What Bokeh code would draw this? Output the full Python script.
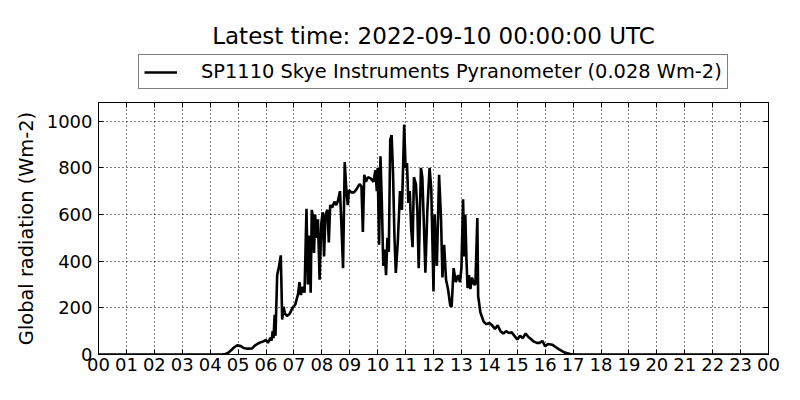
from bokeh.plotting import figure
from bokeh.layouts import column
from bokeh.models import (FixedTicker, LinearAxis, Legend, LegendItem, Label,
                          Range1d, ColumnDataSource, Grid)
from bokeh.embed import file_html
from bokeh.resources import INLINE

# ---- data (hours UTC, global radiation Wm-2) ----
hours = [0.0, 4.4, 4.55, 4.65, 4.75, 4.85, 4.97, 5.1, 5.2, 5.35, 5.5, 5.6, 5.7, 5.8, 5.9,
         6.0, 6.07, 6.12, 6.16, 6.2, 6.24, 6.27, 6.31, 6.34, 6.4, 6.47, 6.53, 6.58, 6.63,
         6.68, 6.75, 6.85, 6.95, 7.05, 7.15, 7.2, 7.25, 7.32, 7.38, 7.45, 7.5, 7.55, 7.6,
         7.64, 7.68, 7.72, 7.76, 7.8, 7.86, 7.92, 7.98, 8.03, 8.08, 8.13, 8.2, 8.25, 8.3,
         8.37, 8.45, 8.52, 8.58, 8.65, 8.7, 8.76, 8.82, 8.88, 8.93, 8.97, 9.05, 9.15, 9.25,
         9.35, 9.42, 9.47, 9.52, 9.58, 9.65, 9.75, 9.85, 9.92, 9.97, 10.0, 10.05, 10.1,
         10.15, 10.2, 10.25, 10.3, 10.35, 10.4, 10.45, 10.5, 10.55, 10.6, 10.65, 10.72,
         10.8, 10.87, 10.95, 11.0, 11.05, 11.1, 11.15, 11.2, 11.25, 11.3, 11.37, 11.42,
         11.47, 11.55, 11.6, 11.66, 11.71, 11.78, 11.86, 11.92, 12.0, 12.04, 12.08, 12.12,
         12.2, 12.27, 12.32, 12.38, 12.45, 12.52, 12.6, 12.65, 12.72, 12.8, 12.88, 12.95,
         13.0, 13.06, 13.1, 13.14, 13.18, 13.22, 13.27, 13.32, 13.38, 13.45, 13.5, 13.57,
         13.6, 13.68, 13.8, 13.9, 14.0, 14.1, 14.2, 14.3, 14.4, 14.5, 14.6, 14.7, 14.8,
         14.9, 15.0, 15.1, 15.2, 15.3, 15.4, 15.5, 15.6, 15.7, 15.8, 15.9, 16.0, 16.1,
         16.25, 16.4, 16.5, 16.7, 16.9, 17.1, 24.0]
radiation = [0, 0, 2, 8, 18, 30, 39, 36, 28, 25, 26, 38, 46, 52, 56,
             62, 50, 62, 72, 60, 100, 70, 170, 80, 340, 380, 425, 150, 205,
             175, 165, 175, 200, 215, 260, 310, 255, 290, 265, 625, 300, 510, 265,
             620, 590, 435, 600, 500, 580, 320, 560, 610, 420, 600, 620, 480, 640,
             630, 655, 640, 660, 700, 560, 370, 825, 700, 640, 705, 695, 695, 710,
             730, 720, 525, 770, 740, 760, 755, 740, 790, 700, 800, 470, 850,
             650, 380, 450, 340, 500, 440, 920, 940, 780, 510, 350, 480,
             700, 620, 985, 800, 820, 650, 700, 540, 460, 760, 730, 620,
             370, 800, 760, 540, 350, 620, 800, 710, 270, 600, 460, 380,
             770, 580, 330, 470, 320, 280, 210, 205, 370, 310, 340, 310,
             370, 665, 420, 600, 410, 285, 340, 280, 330, 300, 300, 585,
             250, 180, 140, 130, 135, 125, 110, 125, 100, 90, 100, 92, 95,
             80, 65, 80, 70, 90, 75, 65, 55, 50, 50, 58, 35, 45,
             42, 30, 22, 8, 2, 0, 0]

hour_ticks = list(range(25))
hour_labels = ["%02d" % (h % 24) for h in hour_ticks]
y_ticks = [0, 200, 400, 600, 800, 1000]

title_text = "Latest time: 2022-09-10 00:00:00 UTC"
series_name = "SP1110 Skye Instruments Pyranometer (0.028 Wm-2)"
y_label = "Global radiation (Wm-2)"

FONT = "DejaVu Sans"
HEADER_H = 94
FRAME_L = 98
FRAME_R = 768

src = ColumnDataSource(dict(h=hours, v=radiation))

# ---------------- header: title + legend ----------------
head = figure(width=800, height=HEADER_H, output_backend="svg", toolbar_location=None,
              x_range=Range1d(0, 24), y_range=Range1d(5000, 6000),
              min_border_left=FRAME_L, min_border_right=800 - FRAME_R, min_border_top=0,
              min_border_bottom=0, x_axis_type=None, y_axis_type=None)
head.outline_line_color = None
head.background_fill_color = "white"
head.border_fill_color = "white"
head.xgrid.visible = False
head.ygrid.visible = False
hr = head.line("h", "v", source=src, line_color="black", line_width=2.6)

leg = Legend(items=[LegendItem(label=series_name, renderers=[hr])],
             location=(138 - FRAME_L, HEADER_H - 89))
leg.label_text_font = FONT
leg.label_text_font_size = "19.4px"
leg.label_text_color = "black"
leg.glyph_width = 33
leg.label_standoff = 24
leg.padding = 5
leg.margin = 0
leg.spacing = 0
leg.border_line_color = "black"
leg.border_line_width = 1
leg.background_fill_alpha = 1
head.add_layout(leg, "center")

head.add_layout(Label(x=(FRAME_L + FRAME_R) / 2 - FRAME_L, y=HEADER_H - 35,
                      x_units="screen", y_units="screen",
                      text=title_text, text_font=FONT, text_font_size="23px",
                      text_align="center", text_baseline="middle",
                      text_color="black"))

# ---------------- main plot ----------------
p = figure(width=800, height=400 - HEADER_H, output_backend="svg", toolbar_location=None,
           x_range=Range1d(0, 24), y_range=Range1d(0, 1080),
           min_border_left=FRAME_L, min_border_right=800 - FRAME_R,
           min_border_top=102 - HEADER_H,
           min_border_bottom=46, x_axis_type=None, y_axis_type=None)
p.background_fill_color = "white"
p.border_fill_color = "white"
p.outline_line_color = "black"
p.outline_line_width = 1

r = p.line("h", "v", source=src, line_color="black", line_width=2.6)

def style_axis(ax, show_labels):
    ax.major_tick_in = 5
    ax.major_tick_out = 0
    ax.minor_tick_line_color = None
    ax.axis_line_color = "black"
    ax.major_tick_line_color = "black"
    ax.major_label_text_font = FONT
    if show_labels:
        ax.major_label_text_font_size = "18px"
        ax.major_label_text_color = "black"
    else:
        ax.major_label_text_color = None
        ax.major_label_text_font_size = "2px"
        ax.major_label_standoff = 0

xb = LinearAxis(ticker=FixedTicker(ticks=hour_ticks))
style_axis(xb, True)
xb.major_label_overrides = {t: l for t, l in zip(hour_ticks, hour_labels)}
xb.major_label_standoff = 3
p.add_layout(xb, "below")

yl = LinearAxis(ticker=FixedTicker(ticks=y_ticks), axis_label=y_label)
style_axis(yl, True)
yl.major_label_standoff = 6
yl.axis_label_text_font = FONT
yl.axis_label_text_font_size = "19.4px"
yl.axis_label_text_font_style = "normal"
yl.axis_label_text_color = "black"
yl.axis_label_standoff = 6
p.add_layout(yl, "left")

yr = LinearAxis(ticker=FixedTicker(ticks=y_ticks))
style_axis(yr, False)
p.add_layout(yr, "right")

xt = LinearAxis(ticker=FixedTicker(ticks=hour_ticks))
style_axis(xt, False)
p.add_layout(xt, "above")

gx = Grid(dimension=0, ticker=FixedTicker(ticks=hour_ticks),
          grid_line_color="black", grid_line_dash="1 3", grid_line_width=1)
gy = Grid(dimension=1, ticker=FixedTicker(ticks=y_ticks),
          grid_line_color="black", grid_line_dash="1 3", grid_line_width=1)
p.add_layout(gx)
p.add_layout(gy)

layout = column(head, p, spacing=0)
open("out.html", "w").write(file_html(layout, INLINE))
